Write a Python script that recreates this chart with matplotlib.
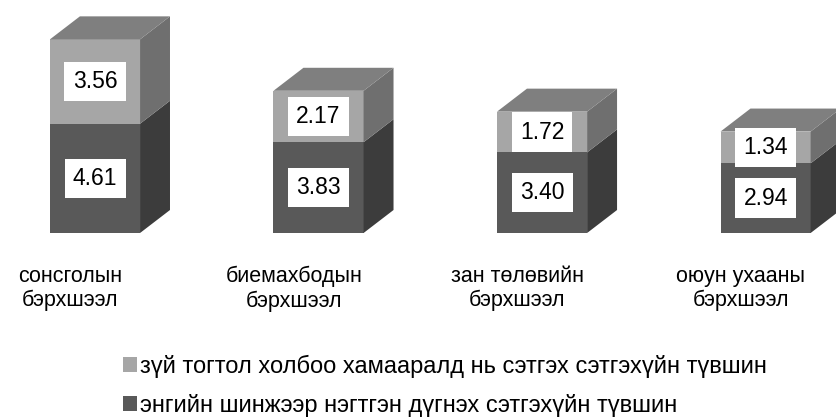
import numpy as np
import matplotlib
matplotlib.use("Agg")
import matplotlib.pyplot as plt
from matplotlib.patches import Polygon, Patch

plt.rcParams['font.family'] = ['Liberation Sans', 'DejaVu Sans']

categories = ["сонсголын\nбэрхшээл", "биемахбодын\nбэрхшээл",
              "зан төлөвийн\nбэрхшээл", "оюун ухааны\nбэрхшээл"]
basic = [4.61, 3.83, 3.40, 2.94]      # доод хэсэг
pattern = [3.56, 2.17, 1.72, 1.34]    # дээд хэсэг
series_names = ["зүй тогтол холбоо хамааралд нь сэтгэх сэтгэхүйн түвшин",
                "энгийн шинжээр нэгтгэн дүгнэх сэтгэхүйн түвшин"]

LIGHT = ("#a6a6a6", "#6f6f6f")   # front, side
DARK = ("#595959", "#3c3c3c")
TOP = "#7f7f7f"

W = 0.403      # bar width (category units)
DX = 0.134     # depth offset x
DY = 0.97      # depth offset y

fig = plt.figure(figsize=(8.36, 4.18), dpi=100)
ax = fig.add_axes([0, 185 / 418, 1, 233 / 418])
ax.set_xlim(-0.425, 3.315)
ax.set_ylim(0, 9.83)
ax.axis('off')


def box(ax, x, y0, y1, cols, top=False):
    l, r = x - W / 2, x + W / 2
    ax.add_patch(Polygon([(l, y0), (r, y0), (r, y1), (l, y1)], closed=True,
                         fc=cols[0], ec='none'))
    ax.add_patch(Polygon([(r, y0), (r + DX, y0 + DY), (r + DX, y1 + DY), (r, y1)],
                         closed=True, fc=cols[1], ec='none'))
    if top:
        ax.add_patch(Polygon([(l, y1), (l + DX, y1 + DY), (r + DX, y1 + DY), (r, y1)],
                             closed=True, fc=TOP, ec='none'))


def label(ax, x, y, v):
    ax.text(x, y, "%.2f" % v, ha='center', va='center', fontsize=16.5,
            bbox=dict(boxstyle='square,pad=0.36', fc='white', ec='none'))


x = np.arange(len(categories))
for i in range(len(categories)):
    b, p = basic[i], pattern[i]
    box(ax, x[i], 0, b, DARK)
    box(ax, x[i], b, b + p, LIGHT, top=True)
    label(ax, x[i], b / 2, b)
    label(ax, x[i], b + p / 2, p)
    ax.text(x[i] - 0.11, -2.35, categories[i], ha='center', va='center',
            fontsize=15.5, linespacing=1.2, clip_on=False)

handles = [Patch(fc=LIGHT[0], ec='none'), Patch(fc=DARK[0], ec='none')]
fig.legend(handles, series_names, loc='upper left', bbox_to_anchor=(0.147, 0.152),
           frameon=False, fontsize=17, handlelength=0.6, handleheight=0.6,
           handletextpad=0.13, labelspacing=0.7, borderpad=0, borderaxespad=0)

fig.savefig("out.png", dpi=100)
